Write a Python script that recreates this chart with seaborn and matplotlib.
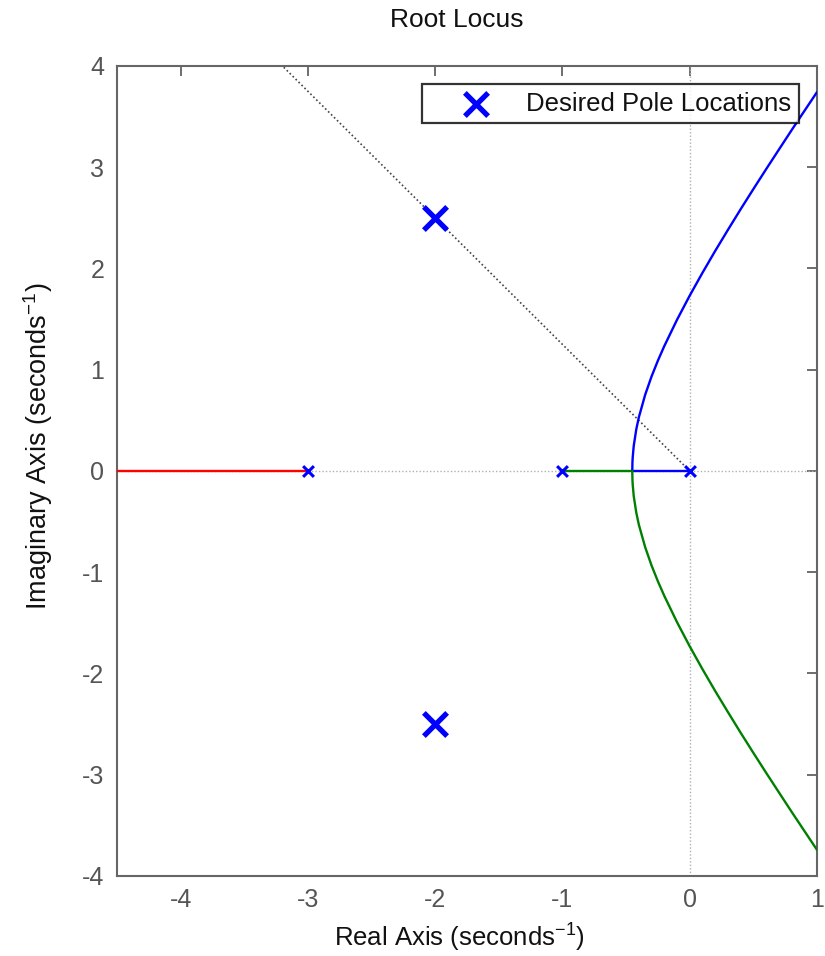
import numpy as np
import pandas as pd
import matplotlib
matplotlib.use("Agg")
import matplotlib.pyplot as plt
import seaborn as sns

# Open-loop poles of G(s) = 1 / (s (s+1) (s+3))
open_loop_poles = [-3.0, -1.0, 0.0]
breakaway = -0.4514

# Complex branch: real part and positive imaginary part
branch_re = [-0.4514, -0.45, -0.448, -0.44, -0.42, -0.40, -0.35, -0.30, -0.25, -0.20,
             -0.10, 0.0, 0.1, 0.2, 0.3, 0.4, 0.5, 0.6, 0.7, 0.8, 0.9, 1.0]
branch_im = [0.0, 0.087, 0.134, 0.247, 0.411, 0.529, 0.753, 0.933, 1.090, 1.233,
             1.493, 1.732, 1.957, 2.173, 2.381, 2.585, 2.784, 2.980, 3.173, 3.365, 3.554, 3.742]

# Desired closed-loop pole locations
desired_re = [-2.0, -2.0]
desired_im = [2.5, -2.5]

# Constant-damping ray through the desired pole
damp_re = [0.0, -3.2]
damp_im = [0.0, 4.0]

x_ticks = [-4, -3, -2, -1, 0, 1]
y_ticks = [-4, -3, -2, -1, 0, 1, 2, 3, 4]

sns.set_theme(style="white")
plt.rcParams["font.family"] = ["Liberation Sans", "DejaVu Sans"]
plt.rcParams["mathtext.default"] = "regular"

fig = plt.figure(figsize=(8.25, 9.56), dpi=100)
ax = fig.add_axes([0.1418, 0.0837, 0.8485, 0.8473])

grey = "#555555"
ax.axhline(0, color="#b0b0b0", lw=1.0, ls=(0, (1, 1.5)), zorder=1)
ax.axvline(0, color="#b0b0b0", lw=1.0, ls=(0, (1, 1.5)), zorder=1)

# damping ray
sns.lineplot(x=damp_re, y=damp_im, ax=ax, color="#444444", lw=1.2,
             linestyle=(0, (1, 1.5)), sort=False, estimator=None, zorder=2)

# Real-axis segments
sns.lineplot(x=[open_loop_poles[0], -4.5], y=[0, 0], ax=ax, color="#ff0000", lw=1.7,
             sort=False, estimator=None, zorder=3)
sns.lineplot(x=[open_loop_poles[1], breakaway], y=[0, 0], ax=ax, color="#008000", lw=1.7,
             sort=False, estimator=None, zorder=3)
sns.lineplot(x=[open_loop_poles[2], breakaway], y=[0, 0], ax=ax, color="#0000ff", lw=1.7,
             sort=False, estimator=None, zorder=3)

# Complex branches (upper blue, lower green)
up = pd.DataFrame({"re": branch_re, "im": branch_im})
sns.lineplot(data=up, x="re", y="im", ax=ax, color="#0000ff", lw=1.7,
             sort=False, estimator=None, zorder=3)
sns.lineplot(x=up["re"], y=-up["im"], ax=ax, color="#008000", lw=1.7,
             sort=False, estimator=None, zorder=3)

# Open-loop pole markers
ax.scatter(open_loop_poles, [0, 0, 0], marker="x", s=60, color="#0000ff",
           linewidths=2.2, zorder=5)

# Desired poles
sns.scatterplot(x=desired_re, y=desired_im, ax=ax, marker="x", s=280, color="#0000ff",
                linewidth=3.8, zorder=6, label="Desired Pole Locations")

ax.set_xlim(-4.5, 1)
ax.set_ylim(-4, 4)
ax.set_xticks(x_ticks)
ax.set_yticks(y_ticks)
ax.set_xticklabels([str(t) for t in x_ticks])
ax.set_yticklabels([str(t) for t in y_ticks])
ax.tick_params(direction="in", length=7, width=1.2, colors=grey, labelsize=18,
               top=True, right=True, pad=9)
for sp in ax.spines.values():
    sp.set_color("#666666")
    sp.set_linewidth(1.5)

ax.set_title("Root Locus", fontsize=19, color="#111111", pad=28)
ax.title.set_x(0.486)
ax.set_xlabel("Real Axis (seconds$^{-1}$)", fontsize=18.5, color="#111111")
ax.set_ylabel("Imaginary Axis (seconds$^{-1}$)", fontsize=19.5, color="#111111")
ax.xaxis.set_label_coords(0.489, -0.056)
ax.yaxis.set_label_coords(-0.088, 0.53)

leg = ax.legend(loc="upper right", fontsize=18.5, frameon=True, fancybox=False,
                edgecolor="black", borderpad=0.3, handletextpad=0.15,
                borderaxespad=0.7, markerscale=1.0, handlelength=3.6)
leg.get_frame().set_linewidth(1.6)
for t in leg.get_texts():
    t.set_color("#111111")

fig.savefig("out.png", dpi=100)
